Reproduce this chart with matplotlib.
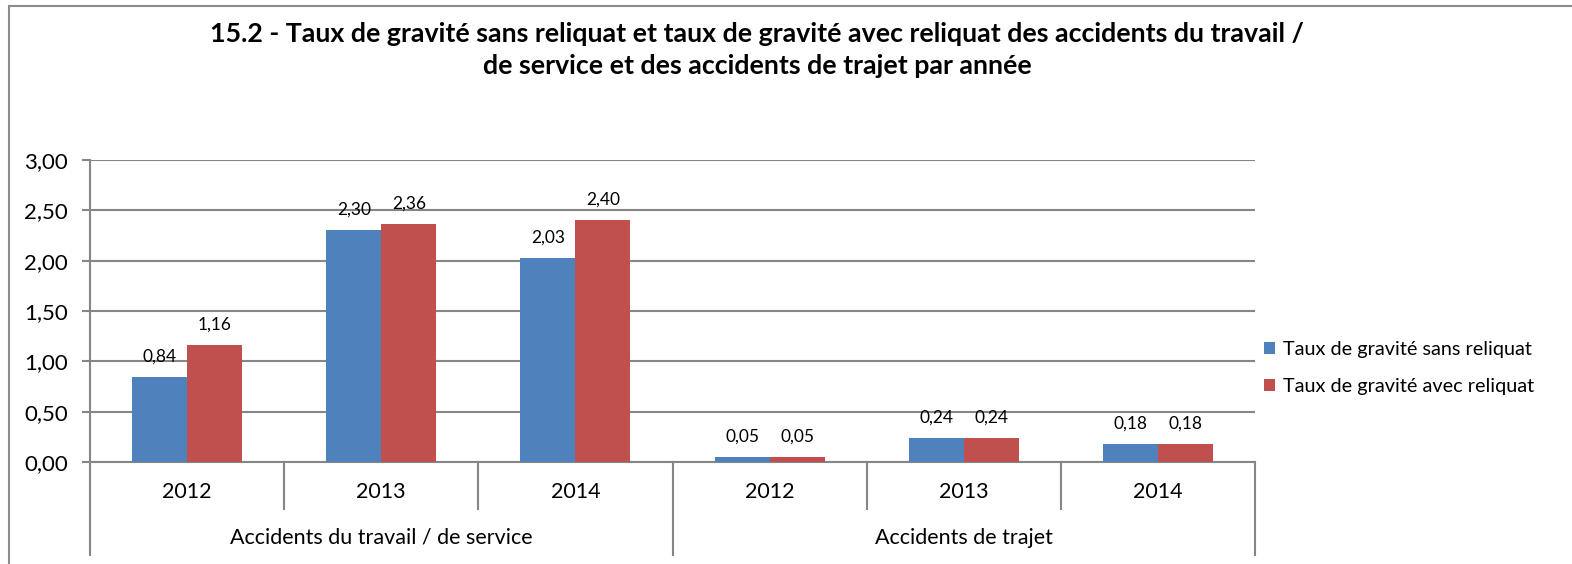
import matplotlib
matplotlib.use("Agg")
import matplotlib.pyplot as plt
from matplotlib.transforms import blended_transform_factory
from matplotlib.patches import Rectangle
from matplotlib.lines import Line2D

years = ["2012", "2013", "2014", "2012", "2013", "2014"]
groups = ["Accidents du travail / de service", "Accidents de trajet"]
sans_reliquat = [0.84, 2.30, 2.03, 0.05, 0.24, 0.18]
avec_reliquat = [1.16, 2.36, 2.40, 0.05, 0.24, 0.18]
series_names = ["Taux de gravité sans reliquat", "Taux de gravité avec reliquat"]
yticks = [0.0, 0.5, 1.0, 1.5, 2.0, 2.5, 3.0]
title = ("15.2 - Taux de gravité sans reliquat et taux de gravité avec reliquat des accidents du travail /\n"
         "de service et des accidents de trajet par année")

BLUE = "#4F81BD"
RED = "#C0504D"
GRID = "#868686"
FONT = ["Lato", "DejaVu Sans"]
plt.rcParams["font.family"] = FONT

W, H = 1572, 564
fig = plt.figure(figsize=(W / 100, H / 100), dpi=100)

def fx(px):
    return px / W

def fy(py):
    return 1 - py / H

# outer border
fig.patches.append(Rectangle((fx(9), fy(700)), fx(1600), fy(6) - fy(700), transform=fig.transFigure,
                             fill=False, edgecolor="#8c8c8c", linewidth=1.5))

ax = fig.add_axes([fx(90), fy(462), fx(1255) - fx(90), fy(160) - fy(462)])
n = len(years)
x = list(range(n))
bw = 0.283
ax.bar([i - bw / 2 for i in x], sans_reliquat, width=bw, color=BLUE, label=series_names[0], zorder=3)
ax.bar([i + bw / 2 for i in x], avec_reliquat, width=bw, color=RED, label=series_names[1], zorder=3)

for i in x:
    ax.annotate(f"{sans_reliquat[i]:.2f}".replace(".", ","), (i - bw / 2, sans_reliquat[i]),
                xytext=(0, 9), textcoords="offset points", ha="center", va="bottom", fontsize=12.5)
    ax.annotate(f"{avec_reliquat[i]:.2f}".replace(".", ","), (i + bw / 2, avec_reliquat[i]),
                xytext=(0, 9), textcoords="offset points", ha="center", va="bottom", fontsize=12.5)

ax.set_xlim(-0.5, n - 0.5)
ax.set_ylim(0, 3.0)
ax.set_yticks(yticks)
ax.set_yticklabels([f"{v:.2f}".replace(".", ",") for v in yticks], fontsize=16)
ax.yaxis.grid(True, color=GRID, linewidth=1.5, zorder=0)
ax.set_axisbelow(True)
ax.tick_params(axis="y", length=6, width=1.5, color=GRID, pad=10)
ax.tick_params(axis="x", length=0, labelbottom=False)
for s in ["top", "right"]:
    ax.spines[s].set_visible(False)
ax.spines["left"].set_color(GRID)
ax.spines["left"].set_linewidth(1.5)
ax.spines["bottom"].set_color(GRID)
ax.spines["bottom"].set_linewidth(1.5)

# multi-level category axis
tr = blended_transform_factory(ax.transData, fig.transFigure)
for i in x:
    ax.text(i, fy(492), years[i], transform=tr, ha="center", va="center", fontsize=15.5)
for k in range(n + 1):
    xb = k - 0.5
    long = k % 3 == 0
    ybot = fy(555) if long else fy(509)
    fig.add_artist(Line2D([xb, xb], [fy(462), ybot], transform=tr, color=GRID, linewidth=1.5))
for g, name in enumerate(groups):
    ax.text(g * 3 + 1, fy(538), name, transform=tr, ha="center", va="center", fontsize=15.5)

fig.text(fx(757), fy(50), title, ha="center", va="center", fontsize=19.3, fontweight="bold",
         linespacing=1.4)

leg = fig.legend(loc="upper left", bbox_to_anchor=(fx(1256), fy(333)), frameon=False, fontsize=14.3,
                 handlelength=0.55, handleheight=0.55, handletextpad=0.4, labelspacing=1.0,
                 borderaxespad=0)

fig.savefig("out.png", dpi=100)
